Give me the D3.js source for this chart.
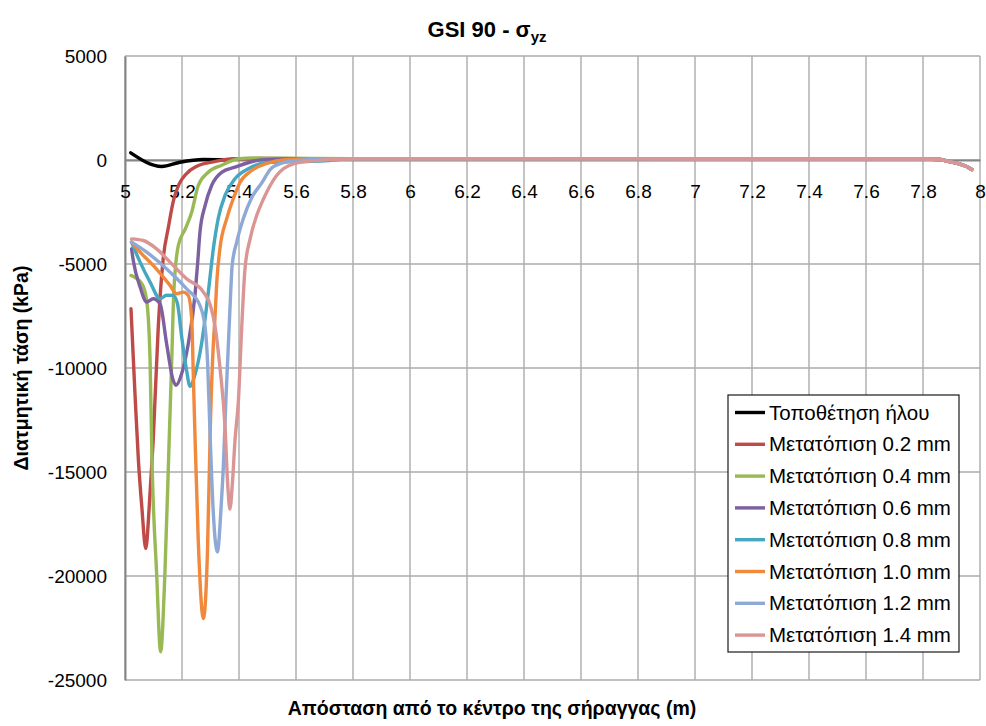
<!DOCTYPE html>
<html>
<head>
<meta charset="utf-8">
<script src="https://cdn.jsdelivr.net/npm/d3@7"></script>
<style>
  html, body { margin: 0; padding: 0; background: #fff; }
  svg { display: block; font-family: "Liberation Sans", Arial, sans-serif; }
</style>
</head>
<body>
<svg id="chart" width="986" height="726"></svg>
<script>
// Shear stress σyz along the distance from the tunnel centre, GSI 90

const xTicks = [5, 5.2, 5.4, 5.6, 5.8, 6, 6.2, 6.4, 6.6, 6.8, 7, 7.2, 7.4, 7.6, 7.8, 8];
const yTicks = [5000, 0, -5000, -10000, -15000, -20000, -25000];

const seriesNames = [
  "Τοποθέτηση ήλου",
  "Μετατόπιση 0.2 mm",
  "Μετατόπιση 0.4 mm",
  "Μετατόπιση 0.6 mm",
  "Μετατόπιση 0.8 mm",
  "Μετατόπιση 1.0 mm",
  "Μετατόπιση 1.2 mm",
  "Μετατόπιση 1.4 mm"
];
const seriesColors = ["#000000", "#BE4B48", "#98B954", "#7D60A0", "#45A7C0", "#F0893B", "#8EA9D6", "#D99694"];

// common far-field part of the displacement curves [distance m, stress kPa]
const farField = [[5.8, 60], [6.2, 60], [6.6, 55], [7.0, 50], [7.4, 45], [7.7, 45], [7.80, 45],
  [7.86, 25], [7.883, -50], [7.918, -154], [7.953, -312], [7.971, -456]];

const placement = [[5.020, 346], [5.129, -312], [5.193, -106], [5.275, 24], [5.351, 10]];

const disp02 = [[5.021, -7150], [5.035, -11230], [5.047, -14430], [5.059, -16680], [5.073, -18680],
  [5.085, -16680], [5.099, -13470], [5.117, -7950], [5.134, -4750], [5.152, -3250], [5.170, -1950],
  [5.190, -1150], [5.216, -650], [5.252, -300], [5.310, -90], [5.380, 60], [5.5, 70]];

const disp04 = [[5.021, -5550], [5.059, -5950], [5.076, -6750], [5.088, -9630], [5.094, -14000],
  [5.111, -19880], [5.125, -23640], [5.140, -19880], [5.155, -13470], [5.164, -9630], [5.171, -6430],
  [5.187, -4110], [5.212, -3300], [5.234, -2510], [5.257, -1225], [5.292, -590], [5.339, -250],
  [5.40, 60], [5.45, 100], [5.5, 90]];

const disp06 = [[5.023, -4270], [5.029, -4830], [5.053, -6110], [5.076, -6830], [5.099, -6670],
  [5.123, -6910], [5.146, -8830], [5.169, -10590], [5.179, -10830], [5.199, -10270], [5.222, -8830],
  [5.246, -6430], [5.255, -4950], [5.263, -3470], [5.281, -2190], [5.304, -1225], [5.339, -590],
  [5.386, -346], [5.45, -60], [5.5, 30], [5.6, 60]];

const disp08 = [[5.023, -3950], [5.053, -4910], [5.088, -5870], [5.123, -6670], [5.146, -6500],
  [5.169, -6510], [5.184, -6900], [5.199, -8510], [5.216, -10110], [5.228, -10880], [5.246, -10300],
  [5.269, -8800], [5.285, -7200], [5.292, -6400], [5.310, -4270], [5.327, -2820], [5.351, -1705],
  [5.386, -900], [5.433, -420], [5.5, -120], [5.6, -80], [5.7, -40]];

const disp10 = [[5.023, -3950], [5.053, -4430], [5.099, -5070], [5.158, -6030], [5.181, -6430],
  [5.205, -6350], [5.222, -6510], [5.234, -7630], [5.240, -10500], [5.246, -13470], [5.257, -18270],
  [5.275, -22040], [5.289, -19000], [5.300, -12500], [5.310, -8830], [5.316, -7500], [5.322, -5870],
  [5.333, -4270], [5.357, -2820], [5.380, -1860], [5.404, -1066], [5.445, -504], [5.5, -150],
  [5.56, 20], [5.65, 60]];

const disp12 = [[5.023, -3950], [5.076, -4430], [5.158, -5390], [5.216, -6190], [5.263, -7000],
  [5.281, -8030], [5.290, -9800], [5.298, -13000], [5.310, -17000], [5.324, -18840], [5.338, -16500],
  [5.345, -14750], [5.354, -11550], [5.368, -7230], [5.376, -5070], [5.392, -3950], [5.415, -2820],
  [5.445, -1800], [5.48, -1100], [5.51, -450], [5.55, -150], [5.6, -30], [5.7, 40]];

const disp14 = [[5.023, -3790], [5.064, -3870], [5.111, -4270], [5.158, -4910], [5.216, -5710],
  [5.275, -6350], [5.300, -7000], [5.316, -8000], [5.333, -9950], [5.351, -12830], [5.360, -15500],
  [5.368, -16790], [5.377, -15500], [5.386, -13470], [5.398, -11550], [5.409, -8200], [5.421, -5230],
  [5.439, -3790], [5.462, -2670], [5.485, -1900], [5.532, -744], [5.591, -183], [5.673, -24]];

const seriesData = [
  placement,
  disp02.concat(farField),
  disp04.concat(farField),
  disp06.concat(farField),
  disp08.concat(farField),
  disp10.concat(farField),
  disp12.concat(farField),
  disp14.concat(farField)
];

const svg = d3.select("#chart");
const plot = { left: 125, right: 980, top: 56, bottom: 680 };

const x = d3.scaleLinear().domain([5, 8]).range([plot.left, plot.right]);
const y = d3.scaleLinear().domain([-25000, 5000]).range([plot.bottom, plot.top]);

// gridlines
const grid = svg.append("g").attr("class", "grid");
grid.selectAll("line.v").data(xTicks).join("line")
  .attr("x1", d => x(d)).attr("x2", d => x(d))
  .attr("y1", plot.top).attr("y2", plot.bottom)
  .attr("stroke", "#ababab").attr("stroke-width", 1.4);
grid.selectAll("line.h").data(yTicks).join("line")
  .attr("x1", plot.left).attr("x2", plot.right)
  .attr("y1", d => y(d)).attr("y2", d => y(d))
  .attr("stroke", "#ababab").attr("stroke-width", 1.4);

// value axis (left) and category axis crossing at zero
const yAxis = svg.append("g")
  .attr("transform", `translate(${plot.left},0)`)
  .call(d3.axisLeft(y).tickValues(yTicks).tickSize(0).tickPadding(18).tickFormat(d => String(d)));
yAxis.select(".domain").attr("stroke", "#868686").attr("stroke-width", 2);
yAxis.selectAll("text").attr("font-size", 19).attr("fill", "#000")
  .attr("font-family", "'Liberation Sans', Arial, sans-serif");

const xAxis = svg.append("g")
  .attr("transform", `translate(0,${y(0)})`)
  .call(d3.axisBottom(x).tickValues(xTicks).tickSize(0).tickPadding(25).tickFormat(d => String(d)));
xAxis.select(".domain").attr("stroke", "#868686").attr("stroke-width", 2);
xAxis.selectAll("text").attr("font-size", 19).attr("fill", "#000")
  .attr("font-family", "'Liberation Sans', Arial, sans-serif");

// series lines
const line = d3.line()
  .x(d => x(d[0]))
  .y(d => y(d[1]))
  .curve(d3.curveMonotoneX);

svg.append("g").selectAll("path").data(seriesData).join("path")
  .attr("d", line)
  .attr("fill", "none")
  .attr("stroke", (d, i) => seriesColors[i])
  .attr("stroke-width", 3.4)
  .attr("stroke-linejoin", "round")
  .attr("stroke-linecap", "round");

// legend
const legend = svg.append("g").attr("transform", "translate(728,395)");
legend.append("rect")
  .attr("width", 231).attr("height", 257)
  .attr("fill", "#fff").attr("stroke", "#1a1a1a").attr("stroke-width", 1.2);
const rows = legend.selectAll("g.row").data(seriesNames).join("g")
  .attr("transform", (d, i) => `translate(0,${17.5 + i * 31.8})`);
rows.append("line")
  .attr("x1", 7).attr("x2", 37).attr("y1", 0).attr("y2", 0)
  .attr("stroke", (d, i) => seriesColors[i]).attr("stroke-width", 3.4);
rows.append("text")
  .attr("x", 41).attr("y", 0).attr("dy", "0.35em")
  .attr("font-size", 20.5).attr("fill", "#000")
  .text(d => d);

// titles
const title = svg.append("text")
  .attr("x", 487).attr("y", 37)
  .attr("text-anchor", "middle")
  .attr("font-size", 22).attr("font-weight", "bold");
title.append("tspan").text("GSI 90 - σ");
title.append("tspan").attr("font-size", 15).attr("dy", 5).text("yz");

svg.append("text")
  .attr("x", 492).attr("y", 715)
  .attr("text-anchor", "middle")
  .attr("font-size", 19.5).attr("font-weight", "bold")
  .text("Απόσταση από το κέντρο της σήραγγας (m)");

svg.append("text")
  .attr("transform", "translate(28,368) rotate(-90)")
  .attr("text-anchor", "middle")
  .attr("font-size", 19.5).attr("font-weight", "bold")
  .text("Διατμητική τάση (kPa)");
</script>
</body>
</html>
